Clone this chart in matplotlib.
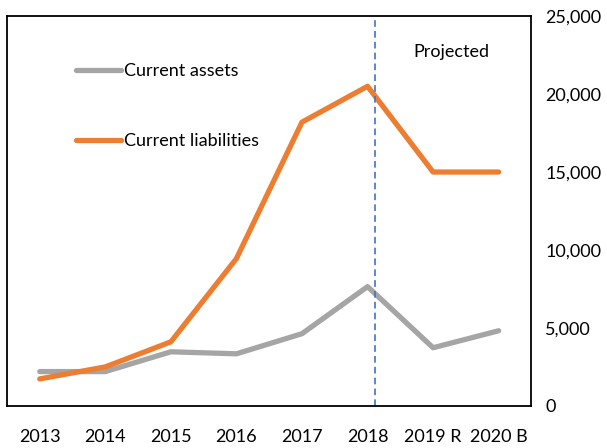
import matplotlib.pyplot as plt
from matplotlib.ticker import FuncFormatter

annees = ["2013", "2014", "2015", "2016", "2017", "2018", "2019 R", "2020 B"]
actifs_courants = [2200, 2200, 3470, 3340, 4630, 7650, 3730, 4820]
passifs_courants = [1730, 2500, 4110, 9450, 18200, 20500, 15000, 15000]

plt.rcParams['font.family'] = ['Lato', 'DejaVu Sans']

fig = plt.figure(figsize=(6.07, 4.48), dpi=100)
ax = fig.add_axes([0.0115, 0.094, 0.864, 0.870])

x = range(len(annees))
ax.plot(x, actifs_courants, color='#A5A5A5', lw=3.8, solid_capstyle='round',
        label="Current assets")
ax.plot(x, passifs_courants, color='#ED7D31', lw=3.8, solid_capstyle='round',
        label="Current liabilities")

# ligne de separation historique / projete
ax.axvline(5.11, ymin=0.0, ymax=1.0, color='#4472C4', lw=1.2, ls=(0, (4, 2.5)))
ax.text(6.28, 22700, "Projected", ha='center', va='center', fontsize=13)

ax.set_xlim(-0.5, 7.5)
ax.set_ylim(0, 25000)
ax.set_xticks(list(x))
ax.set_xticklabels(annees, fontsize=13)
ax.set_yticks(range(0, 25001, 5000))
ax.yaxis.set_major_formatter(FuncFormatter(lambda v, p: f"{int(v):,}"))
ax.yaxis.tick_right()
ax.tick_params(axis='y', length=0, pad=10, labelsize=13)
ax.tick_params(axis='x', length=0, pad=17)
for s in ax.spines.values():
    s.set_linewidth(1.3)
    s.set_color('black')

leg = ax.legend(loc='upper left', bbox_to_anchor=(0.118, 0.898), frameon=False,
                fontsize=13, handlelength=2.5, handletextpad=0.15,
                labelspacing=3.0, borderaxespad=0)

fig.savefig("out.png", dpi=100)
plt.close(fig)
